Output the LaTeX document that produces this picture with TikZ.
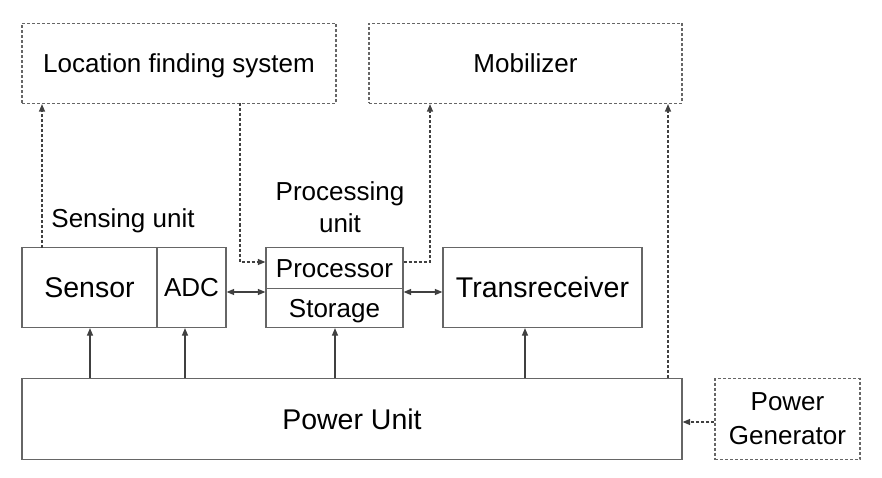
\documentclass[tikz,border=0pt]{standalone}
\usepackage{fontspec}
\setmainfont{Liberation Sans}
\usetikzlibrary{arrows.meta,calc}
\begin{document}
\begin{tikzpicture}[x=1pt,y=-1pt,
  box/.style={draw=black!60,line width=1.2pt,rectangle,inner sep=0pt,text height=18.6pt,text depth=0pt,font=\fontsize{26}{31}\selectfont},
  bigbox/.style={box,text height=20.4pt,font=\fontsize{28.5}{33}\selectfont},
  dbox/.style={box,dash pattern=on 3pt off 2pt},
  lbl/.style={inner sep=0pt,font=\fontsize{26}{32}\selectfont,align=center},
  tip/.tip={Triangle[length=7.5pt,width=6pt]},
  arr/.style={draw=black!75,line width=1.2pt,-tip},
  darr/.style={arr,dash pattern=on 3pt off 2pt},
  biarr/.style={draw=black!75,line width=1.2pt,tip-tip}]
\useasboundingbox (0,0) rectangle (882,478);
\node[dbox,minimum width=314pt,minimum height=80pt] (loc) at (179,63.5) {Location finding system};
\node[dbox,minimum width=313pt,minimum height=80pt] (mob) at (525.5,63.5) {Mobilizer};
\node[bigbox,minimum width=135pt,minimum height=80pt] (sensor) at (89.5,287.5) {Sensor};
\node[box,minimum width=69pt,minimum height=80pt] (adc) at (191.5,287.5) {ADC};
\node[box,minimum width=137pt,minimum height=41pt] (proc) at (334.5,268) {Processor};
\node[box,minimum width=137pt,minimum height=39pt] (stor) at (334.5,308) {Storage};
\node[bigbox,minimum width=199pt,minimum height=80pt] (trans) at (542.5,287.5) {Transreceiver};
\node[bigbox,minimum width=660pt,minimum height=81pt] (power) at (352,419) {Power Unit};
\node[dbox,minimum width=145pt,minimum height=81pt,align=center,text height=,text depth=,font=\fontsize{26}{34}\selectfont] (gen) at (787.5,419) {Power\\Generator};
\node[lbl] (sens) at (123,221) {Sensing unit};
\node[lbl] (procu) at (340,207) {Processing\\unit};
% dashed connectors
\coordinate (s1) at (42,247.5);
\draw[darr] (s1) -- (s1 |- loc.south);
\coordinate (l1) at (240,103.5);
\draw[darr] (l1) -- (l1 |- 0,262) -- (proc.west |- 0,262);
\draw[darr] (proc.east |- 0,262) -- (430,262) -- (mob.south -| 430,0);
\draw[darr] (power.north -| 668,0) -- (mob.south -| 668,0);
\draw[darr] (gen.west |- 0,422) -- (power.east |- 0,422);
% solid connectors
\draw[biarr] (adc.east |- 0,292) -- (proc.west |- 0,292);
\draw[biarr] (stor.east |- 0,292) -- (trans.west |- 0,292);
\draw[arr] (power.north -| 90,0) -- (sensor.south -| 90,0);
\draw[arr] (power.north -| 185,0) -- (adc.south -| 185,0);
\draw[arr] (power.north -| 335,0) -- (stor.south -| 335,0);
\draw[arr] (power.north -| 525,0) -- (trans.south -| 525,0);
\end{tikzpicture}
\end{document}
